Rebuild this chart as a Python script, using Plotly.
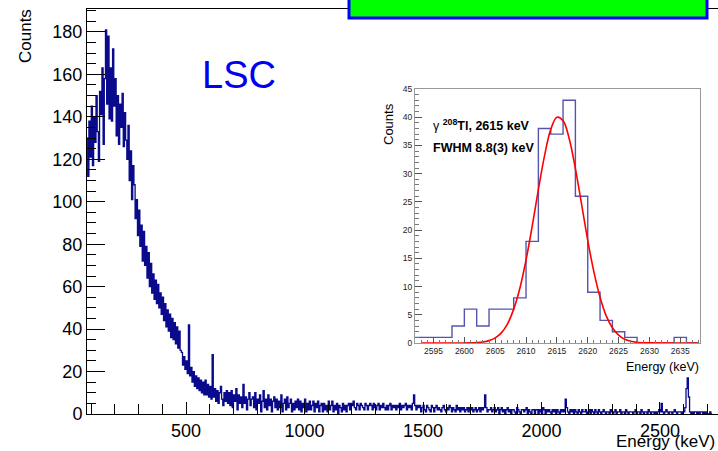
import numpy as np
import plotly.graph_objects as go

# ---------------- data ----------------
# main spectrum: counts per bin, bins start at MAIN_E0 with width MAIN_BW (keV)
MAIN_E0 = 80
MAIN_BW = 5
main_counts = [
    130,112,138,121,145,117,140,128,150,133,119,152,141,163,127,158,181,146,178,139,
    163,138,172,145,158,131,150,127,146,135,151,126,142,129,120,136,110,124,101,117,
    108,92,101,84,96,79,89,72,86,70,79,64,76,60,71,57,66,54,63,52,
    61,50,57,47,55,44,52,41,49,39,47,36,45,35,43,33,41,31,39,30,
    29,23,27,21,25,19,42,18,22,15,20,13,18,12,17,11,16,10,15,9,
    16,9,14,8,13,7,28,8,12,6,11,5,10,13,7,4,10,6,11,5,
    10,4,11,3,9,6,12,2,9,5,8,3,14,5,8,2,7,10,4,7,
    8,3,10,2,7,5,9,1,6,11,3,7,2,9,4,7,1,6,8,3,
    7,2,6,3,9,1,5,7,2,8,3,5,7,1,5,2,6,3,7,2,
    6,1,5,3,7,1,5,2,6,2,4,6,1,5,3,6,1,4,5,1,
    5,2,4,1,6,2,4,6,1,4,2,5,0,4,3,1,5,2,4,1,
    4,5,2,5,4,6,3,2,5,4,2,5,4,3,2,5,4,2,4,5,
    4,2,5,3,2,4,5,2,4,3,5,3,2,4,2,4,5,2,4,3,
    4,2,4,3,5,2,4,3,4,5,2,4,3,4,2,5,9,4,2,4,
    3,4,1,3,4,2,1,4,3,2,1,4,3,1,3,4,2,3,2,1,
    3,4,2,1,3,2,4,3,1,3,2,1,4,2,3,1,3,2,3,1,
    2,3,1,3,2,3,1,2,3,1,2,3,1,3,2,3,9,3,1,2,
    2,3,1,2,3,1,2,3,0,2,3,1,2,0,2,3,1,2,0,2,
    2,1,0,3,2,1,0,2,2,1,2,3,0,2,1,0,2,2,0,2,
    2,0,2,1,0,3,2,0,2,1,2,1,0,2,1,2,0,2,1,0,
    2,1,2,1,7,3,1,0,2,1,2,0,2,1,0,2,1,0,2,1,
    1,2,0,1,2,0,2,1,0,2,1,0,2,1,0,1,2,1,0,1,
    1,0,2,1,0,1,2,0,1,1,2,0,1,1,0,2,1,0,1,1,
    1,0,1,2,0,1,1,0,2,1,0,1,1,0,2,1,0,1,1,0,
    1,0,1,2,1,5,1,0,1,2,1,0,1,1,0,1,2,1,0,1,
    1,1,0,1,1,3,12,17,8,1,0,1,0,1,1,0,1,0,1,1,
    0,1,0,1,0,0,1,0,
]

# inset: 208Tl peak, 2 keV bins starting at 2592
INSET_E0 = 2592
INSET_BW = 2
inset_counts = [1,1,1,3,6,3,6,6,8,18,38,37,43,26,9,4,2,1,0,0,0,1,0]

# gaussian fit curve (energy, counts)
fit_energy = [2593,2596,2599,2601,2602,2603,2604,2605,2606,2607,2608,2609,2610,2611,2612,
              2613,2614,2615,2616,2617,2618,2619,2620,2621,2622,2623,2624,2625,2626,2627,
              2628,2629,2630,2633,2638]
fit_counts = [0,0,0,0.02,0.07,0.18,0.42,0.91,1.8,3.4,6.0,9.7,14.7,20.7,27.2,
              33.2,37.8,40.0,39.4,36.2,30.9,24.6,18.2,12.6,8.1,4.8,2.7,1.4,0.67,0.3,
              0.12,0.05,0.02,0,0]

main_xticks = [500, 1000, 1500, 2000, 2500]
main_yticks = [0, 20, 40, 60, 80, 100, 120, 140, 160, 180]
inset_xticks = [2595, 2600, 2605, 2610, 2615, 2620, 2625, 2630, 2635]
inset_yticks = [0, 5, 10, 15, 20, 25, 30, 35, 40, 45]

# ---------------- figure ----------------
W, H = 718, 451
L, R, T, B = 87, 0, 9, 37
PW, PH = W - L - R, H - T - B

def px(x):
    return (x - L) / PW

def py(y):
    return (H - B - y) / PH

def step_xy(e0, bw, counts):
    edges = e0 + bw * np.arange(len(counts) + 1)
    ys = list(counts) + [counts[-1]]
    return edges, ys

FONT = "Liberation Sans, Arial, Helvetica, sans-serif"

fig = go.Figure()

mx, my = step_xy(MAIN_E0, MAIN_BW, main_counts)
fig.add_trace(go.Scatter(x=mx, y=my, mode="lines", line=dict(shape="hv", color="#0a0a8c", width=1.3),
                         showlegend=False, hoverinfo="skip"))

ix, iy = step_xy(INSET_E0, INSET_BW, inset_counts)
fig.add_trace(go.Scatter(x=ix, y=iy, mode="lines", line=dict(shape="hv", color="#5555b0", width=1.4),
                         xaxis="x2", yaxis="y2", showlegend=False, hoverinfo="skip"))
fig.add_trace(go.Scatter(x=fit_energy, y=fit_counts, mode="lines",
                         line=dict(shape="spline", color="#ff0000", width=1.6),
                         xaxis="x2", yaxis="y2", showlegend=False, hoverinfo="skip"))

fig.update_layout(
    width=W, height=H,
    margin=dict(l=L, r=R, t=T, b=B),
    paper_bgcolor="white", plot_bgcolor="white",
    font=dict(family=FONT, color="black"),
    xaxis=dict(range=[82, 2745], tickvals=main_xticks, ticks="inside", ticklen=12, tickwidth=1,
               tickcolor="black", showline=True, linecolor="black", linewidth=1, mirror=True,
               showgrid=False, zeroline=False, tickfont=dict(size=18, family=FONT),
               minor=dict(dtick=100, tick0=0, ticks="inside", ticklen=10, tickcolor="black", showgrid=False)),
    yaxis=dict(range=[0, 190.8], tickvals=main_yticks, ticks="inside", ticklen=18, tickwidth=1,
               tickcolor="black", showline=True, linecolor="black", linewidth=1,
               showgrid=False, zeroline=False, tickfont=dict(size=18, family=FONT),
               minor=dict(dtick=5, tick0=0, ticks="inside", ticklen=9, tickcolor="black", showgrid=False)),
    xaxis2=dict(domain=[px(415), px(700)], anchor="y2", range=[2592, 2638.2], tickvals=inset_xticks,
                ticks="inside", ticklen=6, tickcolor="#555", showline=True, linecolor="#999",
                mirror=True, showgrid=False, zeroline=False,
                tickfont=dict(size=8.5, family=FONT, color="#222"),
                minor=dict(dtick=1, tick0=0, ticks="inside", ticklen=3, tickcolor="#777", showgrid=False)),
    yaxis2=dict(domain=[py(343), py(89)], anchor="x2", range=[0, 45], tickvals=inset_yticks,
                ticks="inside", ticklen=7, tickcolor="#555", showline=True, linecolor="#999",
                mirror=True, showgrid=False, zeroline=False,
                tickfont=dict(size=8.5, family=FONT, color="#222"),
                minor=dict(dtick=1, tick0=0, ticks="inside", ticklen=4, tickcolor="#777", showgrid=False)),
)

# green title box (cropped at top)
fig.add_shape(type="rect", xref="paper", yref="paper", x0=px(349), x1=px(707), y0=py(18), y1=py(-10),
              fillcolor="#00ff00", line=dict(color="#0000ff", width=3), layer="above")

ann = [
    dict(text="Counts", x=px(26), y=py(36), textangle=-90, font=dict(size=17, family=FONT),
         xanchor="center", yanchor="middle"),
    dict(text="Energy (keV)", x=px(717), y=py(441), font=dict(size=17, family=FONT),
         xanchor="right", yanchor="middle"),
    dict(text="LSC", x=px(239), y=py(75), font=dict(size=38, family=FONT, color="#0000f0"),
         xanchor="center", yanchor="middle"),
    dict(text="Counts", x=px(388), y=py(124), textangle=-90, font=dict(size=13, family=FONT),
         xanchor="center", yanchor="middle"),
    dict(text="Energy (keV)", x=px(701), y=py(367), font=dict(size=12.5, family=FONT),
         xanchor="right", yanchor="middle"),
    dict(text="γ <b><sup>208</sup>Tl, 2615 keV</b>", x=px(431), y=py(125),
         font=dict(size=12.5, family=FONT), xanchor="left", yanchor="middle"),
    dict(text="<b>FWHM 8.8(3) keV</b>", x=px(431), y=py(148),
         font=dict(size=12.5, family=FONT), xanchor="left", yanchor="middle"),
]
for a in ann:
    a.update(xref="paper", yref="paper", showarrow=False)
    fig.add_annotation(**a)

fig.write_html("out.html")
